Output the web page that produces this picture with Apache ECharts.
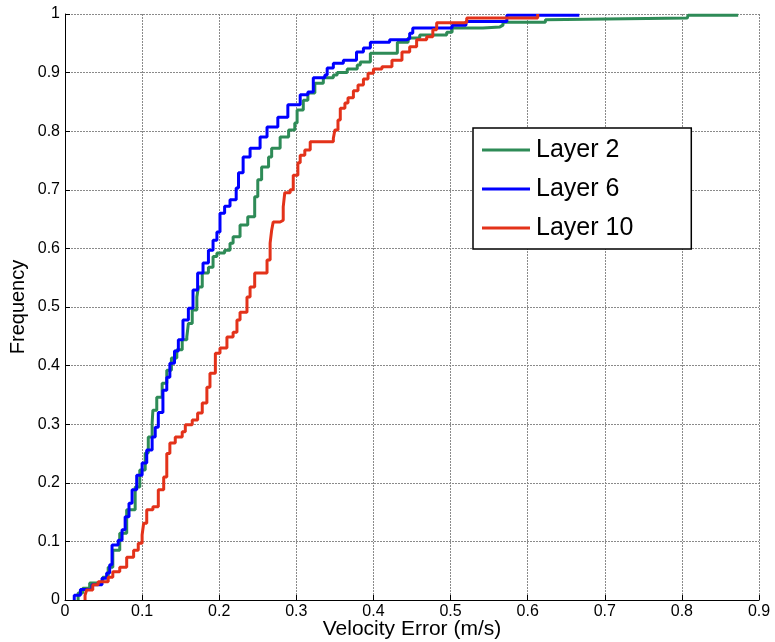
<!DOCTYPE html>
<html>
<head>
<meta charset="utf-8">
<script src="https://cdn.jsdelivr.net/npm/echarts@6/dist/echarts.min.js"></script>
<style>html,body{margin:0;padding:0;background:#fff}#c{width:775px;height:642px}</style>
</head>
<body>
<div id="c"></div>
<script>
const seriesNames = ['Layer 2', 'Layer 6', 'Layer 10'];
const xTicks = [0, 0.1, 0.2, 0.3, 0.4, 0.5, 0.6, 0.7, 0.8, 0.9];
const yTicks = [0, 0.1, 0.2, 0.3, 0.4, 0.5, 0.6, 0.7, 0.8, 0.9, 1];

const layer2 = [[0.017,0],[0.017,0.012],[0.023,0.02],[0.032,0.029],[0.041,0.031],[0.049,0.039],[0.056,0.056],[0.062,0.085],[0.071,0.114],[0.080,0.154],[0.091,0.193],[0.097,0.222],[0.104,0.251],[0.108,0.278],[0.113,0.302],[0.114,0.324],[0.119,0.346],[0.126,0.370],[0.132,0.392],[0.138,0.413],[0.145,0.427],[0.152,0.444],[0.158,0.449],[0.160,0.472],[0.165,0.495],[0.171,0.517],[0.173,0.534],[0.178,0.558],[0.186,0.568],[0.192,0.586],[0.197,0.592],[0.207,0.597],[0.214,0.609],[0.218,0.620],[0.227,0.640],[0.237,0.654],[0.246,0.688],[0.250,0.717],[0.255,0.739],[0.264,0.756],[0.268,0.771],[0.279,0.790],[0.290,0.802],[0.298,0.814],[0.301,0.836],[0.309,0.853],[0.315,0.865],[0.324,0.882],[0.335,0.891],[0.348,0.896],[0.353,0.900],[0.366,0.906],[0.379,0.913],[0.383,0.918],[0.396,0.933],[0.431,0.952],[0.445,0.959],[0.460,0.964],[0.495,0.969],[0.502,0.976],[0.542,0.978],[0.564,0.981],[0.568,0.986],[0.623,0.990],[0.625,0.993],[0.807,0.995],[0.808,0.998],[0.873,0.998]];

const layer6 = [[0.012,0],[0.012,0.008],[0.020,0.018],[0.035,0.026],[0.048,0.037],[0.054,0.046],[0.058,0.060],[0.061,0.094],[0.069,0.102],[0.074,0.120],[0.078,0.142],[0.083,0.165],[0.087,0.188],[0.093,0.213],[0.100,0.234],[0.106,0.256],[0.113,0.278],[0.117,0.295],[0.121,0.320],[0.127,0.358],[0.132,0.380],[0.136,0.404],[0.142,0.425],[0.147,0.444],[0.153,0.478],[0.160,0.498],[0.166,0.529],[0.172,0.558],[0.179,0.575],[0.186,0.597],[0.192,0.614],[0.197,0.628],[0.201,0.660],[0.207,0.672],[0.214,0.683],[0.222,0.703],[0.225,0.729],[0.231,0.756],[0.240,0.771],[0.253,0.790],[0.262,0.807],[0.276,0.824],[0.289,0.845],[0.305,0.862],[0.315,0.867],[0.322,0.891],[0.337,0.896],[0.340,0.908],[0.348,0.916],[0.361,0.921],[0.378,0.935],[0.387,0.942],[0.396,0.952],[0.421,0.956],[0.443,0.958],[0.447,0.967],[0.451,0.976],[0.502,0.981],[0.520,0.987],[0.573,0.998],[0.667,0.998]];

const layer10 = [[0.026,0],[0.026,0.008],[0.028,0.017],[0.036,0.026],[0.043,0.031],[0.056,0.039],[0.062,0.048],[0.071,0.056],[0.080,0.073],[0.089,0.085],[0.095,0.097],[0.100,0.111],[0.102,0.131],[0.106,0.154],[0.114,0.159],[0.121,0.188],[0.128,0.210],[0.132,0.250],[0.136,0.268],[0.143,0.278],[0.152,0.287],[0.156,0.299],[0.165,0.307],[0.172,0.319],[0.178,0.336],[0.184,0.363],[0.188,0.387],[0.195,0.421],[0.201,0.430],[0.210,0.449],[0.218,0.457],[0.223,0.478],[0.227,0.491],[0.236,0.517],[0.240,0.534],[0.246,0.558],[0.259,0.558],[0.262,0.580],[0.266,0.609],[0.268,0.631],[0.270,0.645],[0.279,0.648],[0.283,0.671],[0.285,0.695],[0.292,0.700],[0.296,0.725],[0.302,0.746],[0.305,0.759],[0.311,0.768],[0.318,0.782],[0.340,0.782],[0.348,0.788],[0.350,0.802],[0.354,0.819],[0.357,0.839],[0.363,0.848],[0.367,0.857],[0.374,0.869],[0.380,0.879],[0.387,0.889],[0.393,0.899],[0.400,0.906],[0.411,0.910],[0.424,0.921],[0.437,0.935],[0.447,0.944],[0.456,0.956],[0.469,0.961],[0.477,0.973],[0.482,0.985],[0.518,0.986],[0.521,0.993],[0.613,0.995],[0.613,1.0]];

const colors = ['#2E8B57', '#0000FF', '#E3321A'];
const dataSets = [layer2, layer6, layer10];

const chart = echarts.init(document.getElementById('c'));
const font = 'Arial, "Liberation Sans", sans-serif';
const gridLine = { show: true, lineStyle: { color: '#8a8a8a', type: [2, 1], width: 1 } };
chart.setOption({
  animation: false,
  backgroundColor: '#fff',
  grid: { left: 65, right: 16, top: 14, bottom: 42, containLabel: false, outerBoundsMode: 'none' },
  xAxis: {
    type: 'value', min: xTicks[0], max: xTicks[xTicks.length - 1], interval: 0.1,
    name: 'Velocity Error (m/s)', nameLocation: 'middle', nameGap: 19, nameMoveOverlap: false,
    nameTextStyle: { color: '#000', fontSize: 21, fontFamily: font },
    axisLine: { lineStyle: { color: '#000', width: 1 } },
    axisTick: { inside: true, length: 5, lineStyle: { color: '#000' } },
    axisLabel: { color: '#000', fontSize: 16, fontFamily: font, margin: 4,
      formatter: v => String(+v.toFixed(1)) },
    splitLine: gridLine
  },
  yAxis: {
    type: 'value', min: yTicks[0], max: yTicks[yTicks.length - 1], interval: 0.1,
    name: 'Frequency', nameLocation: 'middle', nameGap: 37, nameRotate: 90, nameMoveOverlap: false,
    nameTextStyle: { color: '#000', fontSize: 20, fontFamily: font },
    axisLine: { show: true, lineStyle: { color: '#000', width: 1 } },
    axisTick: { show: true, inside: true, length: 5, lineStyle: { color: '#000' } },
    axisLabel: { color: '#000', fontSize: 16, fontFamily: font, margin: 5,
      formatter: v => String(+v.toFixed(1)) },
    splitLine: gridLine
  },
  legend: {
    orient: 'vertical', left: 473, top: 128,
    data: seriesNames,
    backgroundColor: '#fff', borderColor: '#000', borderWidth: 1.5, borderRadius: 0,
    padding: [8, 58, 7, 9],
    itemWidth: 48, itemHeight: 3, itemGap: 11, icon: 'rect',
    textStyle: { color: '#000', fontSize: 25, fontFamily: font, lineHeight: 28, padding: [0, 0, 0, 1] }
  },
  series: seriesNames.map((n, i) => ({
    name: n, type: 'line', step: 'end', showSymbol: false, symbol: 'none',
    data: dataSets[i], color: colors[i],
    lineStyle: { color: colors[i], width: 3 }
  }))
});
</script>
</body>
</html>
